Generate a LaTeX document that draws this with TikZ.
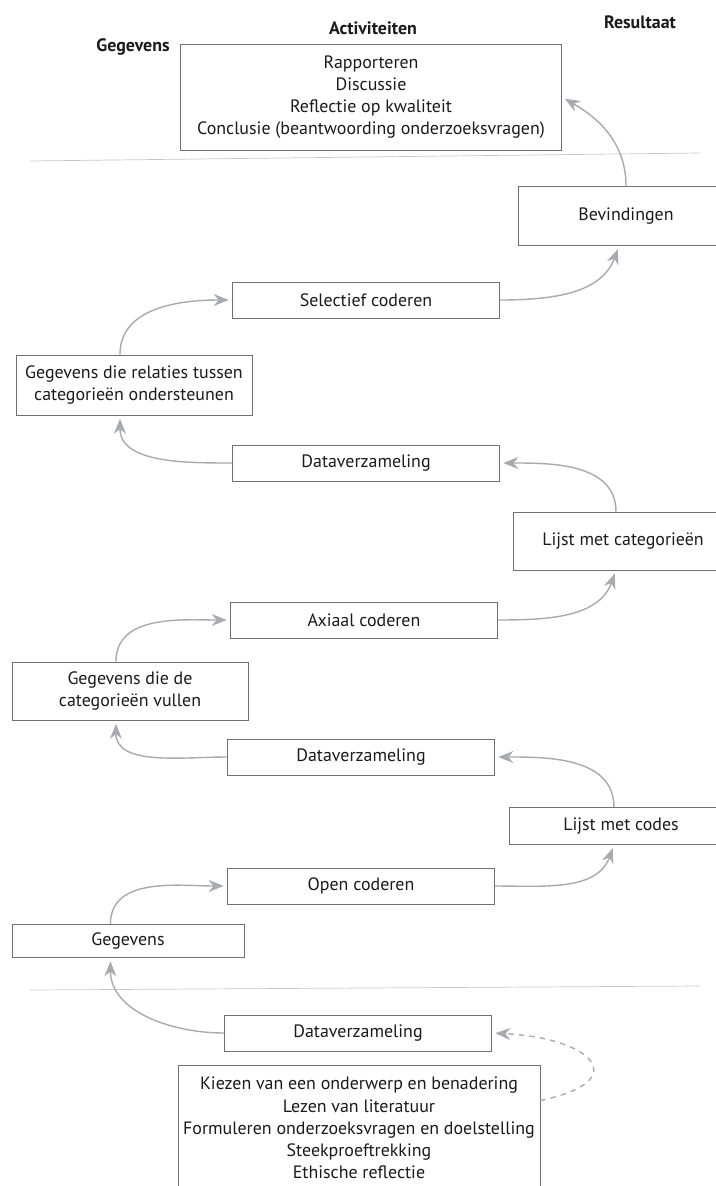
\documentclass[tikz,border=0pt]{standalone}
\usepackage{fontspec}
\setmainfont{PT Sans}
\usetikzlibrary{arrows.meta,positioning}
\definecolor{ink}{HTML}{1A1A1A}
\definecolor{boxline}{HTML}{707070}
\definecolor{flowgray}{HTML}{A9A9B2}

\begin{document}
\begin{tikzpicture}[
  x=0.02cm, y=0.02cm,
  heading/.style={font=\fontsize{10.2pt}{12.6pt}\selectfont\bfseries, text=ink},
  activity/.style={rectangle, draw=boxline, text=ink, minimum width=5.34cm, minimum height=0.72cm, inner sep=2pt, font=\fontsize{10.2pt}{12.6pt}\selectfont},
  data/.style={rectangle, draw=boxline, text=ink, align=center, minimum width=4.72cm, inner sep=2pt, font=\fontsize{10.2pt}{12.6pt}\selectfont},
  result/.style={rectangle, draw=boxline, text=ink, inner sep=2pt, font=\fontsize{10.2pt}{12.6pt}\selectfont},
  phase/.style={rectangle, draw=boxline, text=ink, align=center, inner sep=2pt, font=\fontsize{10.2pt}{12.6pt}\selectfont},
  divider/.style={draw=black!22, thin},
  flow/.style={-{Stealth[length=3mm, width=2.4mm]}, flowgray, thick, shorten >=2pt},
]
  \useasboundingbox (0,0) rectangle (716,-1186);

  % kolomkoppen
  \node[heading] (hgeg) at (133,-47) {Gegevens};
  \node[heading] (hact) at (373,-28) {Activiteiten};
  \node[heading] (hres) at (640,-22) {Resultaat};

  \node[phase, minimum width=7.62cm, minimum height=2.12cm] (report) at (371,-97)
    {Rapporteren\\Discussie\\Reflectie op kwaliteit\\Conclusie (beantwoording onderzoeksvragen)};

  \draw[divider] (30,-161) -- (700,-153);

  % selectief coderen
  \node[result, minimum width=4.3cm, minimum height=1.18cm] (bev) at (626,-216) {Bevindingen};
  \node[activity] (sel) at (366,-300) {Selectief coderen};
  \node[data, minimum height=1.2cm] (rel) at (134,-385) {Gegevens die relaties tussen\\categorieën ondersteunen};
  \node[activity] (dv1) at (366,-463) {Dataverzameling};

  % axiaal coderen
  \node[result, minimum width=4.4cm, minimum height=1.16cm] (lcat) at (623,-541) {Lijst met categorieën};
  \node[activity] (ax) at (364,-620) {Axiaal coderen};
  \node[data, minimum height=1.16cm] (vul) at (130,-691) {Gegevens die de\\categorieën vullen};
  \node[activity] (dv2) at (361,-757) {Dataverzameling};

  % open coderen
  \node[result, minimum width=4.48cm, minimum height=0.74cm] (lcod) at (621,-826) {Lijst met codes};
  \node[activity] (open) at (361,-886) {Open coderen};
  \node[data, minimum width=4.64cm, minimum height=0.66cm] (geg) at (128,-941) {Gegevens};

  \draw[divider] (30,-990) -- (700,-986);

  % voorbereiding
  \node[activity] (dv3) at (358,-1033) {Dataverzameling};
  \node[phase, minimum width=7.24cm, minimum height=2.52cm] (prep) at (359,-1128)
    {Kiezen van een onderwerp en benadering\\Lezen van literatuur\\Formuleren onderzoeksvragen en doelstelling\\Steekproeftrekking\\Ethische reflectie};

  \draw[flow] (bev.north) to[out=90, in=-30] (report.east);
  \draw[flow] (sel.east) to[out=0, in=-110] ([xshift=-4pt]bev.south);
  \draw[flow] ([xshift=-8pt]rel.north) to[out=90, in=180] (sel.west);
  \draw[flow] (dv1.west) to[out=180, in=-90] ([xshift=-8pt]rel.south);
  \draw[flow] ([xshift=-4pt]lcat.north) to[out=90, in=0] (dv1.east);
  \draw[flow] (ax.east) to[out=0, in=-110] ([xshift=-4pt]lcat.south);
  \draw[flow] ([xshift=-8pt]vul.north) to[out=90, in=180] (ax.west);
  \draw[flow] (dv2.west) to[out=180, in=-90] ([xshift=-8pt]vul.south);
  \draw[flow] ([xshift=-4pt]lcod.north) to[out=90, in=0] (dv2.east);
  \draw[flow] (open.east) to[out=0, in=-110] ([xshift=-4pt]lcod.south);
  \draw[flow] ([xshift=-10pt]geg.north) to[out=90, in=180] (open.west);
  \draw[flow] (dv3.west) to[out=180, in=-90] ([xshift=-10pt]geg.south);
  \draw[flow, dashed] ([yshift=0.55cm]prep.east) .. controls +(95,20) and +(100,-5) .. (dv3.east);
\end{tikzpicture}
\end{document}
